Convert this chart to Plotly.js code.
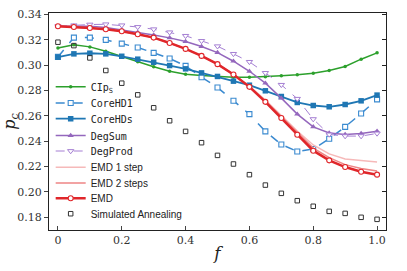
<!DOCTYPE html>
<html>
<head>
<meta charset="utf-8">
<script src="https://cdn.plot.ly/plotly-3.0.1.min.js"></script>
<style>html,body{margin:0;padding:0;background:#fff;}#chart{width:407px;height:271px;}</style>
</head>
<body>
<div id="chart"></div>
<script>
const f = [0,0.05,0.1,0.15,0.2,0.25,0.3,0.35,0.4,0.45,0.5,0.55,0.6,0.65,0.7,0.75,0.8,0.85,0.9,0.95,1.0];
const ciPS = [0.3135,0.3160,0.3143,0.3109,0.3067,0.3025,0.2986,0.2951,0.2928,0.2917,0.2910,0.2904,0.2904,0.2907,0.2915,0.2923,0.2936,0.2957,0.2988,0.3046,0.3096];
const coreHD1 = [0.3064,0.3216,0.3216,0.3198,0.3169,0.3138,0.3096,0.3051,0.2993,0.2904,0.2823,0.2718,0.2613,0.2477,0.2374,0.2319,0.2338,0.2419,0.2513,0.2618,0.2729];
const coreHDs = [0.3062,0.3088,0.3093,0.3088,0.3069,0.3046,0.3022,0.2996,0.2970,0.2938,0.2910,0.2873,0.2841,0.2797,0.2752,0.2705,0.2681,0.2671,0.2689,0.2718,0.2763];
const degSum = [0.3306,0.3308,0.3306,0.3295,0.3277,0.3258,0.3237,0.3214,0.3185,0.3146,0.3098,0.3030,0.2951,0.2857,0.2739,0.2613,0.2513,0.2464,0.2453,0.2461,0.2479];
const degProd = [0.3306,0.3313,0.3319,0.3321,0.3313,0.3300,0.3282,0.3258,0.3230,0.3190,0.3148,0.3088,0.3025,0.2938,0.2844,0.2734,0.2574,0.2453,0.2440,0.2440,0.2461];
const emd1 = [0.3306,0.3300,0.3292,0.3282,0.3266,0.3243,0.3216,0.3174,0.3127,0.3072,0.3007,0.2927,0.2835,0.2725,0.2605,0.2480,0.2370,0.2300,0.2260,0.2245,0.2235];
const emd2 = [0.3306,0.3300,0.3292,0.3282,0.3266,0.3243,0.3216,0.3174,0.3127,0.3072,0.3007,0.2926,0.2831,0.2718,0.2595,0.2465,0.2345,0.2270,0.2215,0.2185,0.2165];
const emd = [0.3306,0.3300,0.3292,0.3282,0.3266,0.3243,0.3216,0.3174,0.3127,0.3072,0.3007,0.2925,0.2828,0.2710,0.2582,0.2451,0.2325,0.2249,0.2196,0.2159,0.2136];
const simAnn = [0.3180,0.3153,0.3056,0.2957,0.2857,0.2765,0.2663,0.2561,0.2477,0.2388,0.2288,0.2220,0.2136,0.2054,0.1989,0.1931,0.1887,0.1847,0.1831,0.1800,0.1784];
const xTickVals = [0,0.2,0.4,0.6,0.8,1.0];
const xTickText = ['0','0.2','0.4','0.6','0.8','1.0'];
const yTickVals = [0.18,0.20,0.22,0.24,0.26,0.28,0.30,0.32,0.34];

const mono = 'font-family:DejaVu Sans Mono';
const traces = [
  {x:f, y:ciPS, name:'<span style="'+mono+'">CIp<sub>S</sub></span>', mode:'lines+markers',
   line:{color:'#2ca02c', width:1.5}, marker:{symbol:'circle', size:3.5, color:'#2ca02c'}},
  {x:f, y:coreHD1, name:'<span style="'+mono+'">CoreHD1</span>', mode:'lines+markers',
   line:{color:'#3a8ad0', width:1.5, dash:'dash'}, marker:{symbol:'square', size:5, color:'#ffffff', line:{color:'#3a8ad0', width:1.1}}},
  {x:f, y:coreHDs, name:'<span style="'+mono+'">CoreHDs</span>', mode:'lines+markers',
   line:{color:'#1f77b4', width:1.8}, marker:{symbol:'square', size:5.5, color:'#1f77b4'}},
  {x:f, y:degSum, name:'<span style="'+mono+'">DegSum</span>', mode:'lines+markers',
   line:{color:'#9467bd', width:1.5}, marker:{symbol:'triangle-up', size:5.5, color:'#9467bd'}},
  {x:f, y:degProd, name:'<span style="'+mono+'">DegProd</span>', mode:'lines+markers',
   line:{color:'#a57fd3', width:1, dash:'dash'}, marker:{symbol:'triangle-down', size:5.5, color:'#ffffff', line:{color:'#a57fd3', width:1}}},
  {x:f, y:emd1, name:'EMD 1 step', mode:'lines',
   line:{color:'#f6b9b9', width:1.5}},
  {x:f, y:emd2, name:'EMD 2 steps', mode:'lines',
   line:{color:'#ee8585', width:1.5}},
  {x:f, y:emd, name:'EMD', mode:'lines+markers',
   line:{color:'#e0262a', width:2.5}, marker:{symbol:'circle', size:5, color:'#ffffff', line:{color:'#e0262a', width:1.1}}},
  {x:f, y:simAnn, name:'Simulated Annealing', mode:'markers',
   marker:{symbol:'square-open', size:4.5, color:'#333333', line:{width:1}}}
];

// one legend per entry so the rows can sit closer than Plotly's 19px minimum
const legendY = [0.660,0.585,0.513,0.435,0.364,0.289,0.217,0.146,0.075];
const layout = {
  width:407, height:271,
  margin:{l:49, r:21, t:13, b:41},
  paper_bgcolor:'#ffffff', plot_bgcolor:'#ffffff',
  showlegend:true,
  xaxis:{range:[-0.028,1.028], tickvals:xTickVals, ticktext:xTickText, ticks:'inside', ticklen:4,
         showline:true, mirror:true, linecolor:'#222', linewidth:1, showgrid:false, zeroline:false,
         tickfont:{family:'DejaVu Serif', size:11, color:'#333'},
         title:{text:'<i>f</i>', font:{family:'DejaVu Serif', size:17, color:'#222'}, standoff:0}},
  yaxis:{range:[0.170,0.341], tickvals:yTickVals, tickformat:'.2f', ticks:'outside', ticklen:4,
         showline:true, mirror:true, linecolor:'#222', linewidth:1, showgrid:false, zeroline:false,
         tickfont:{family:'DejaVu Serif', size:11, color:'#333'},
         title:{text:'<i>p</i><sub><i>c</i></sub>', font:{family:'DejaVu Serif', size:16, color:'#222'}, standoff:2}},
  yaxis2:{overlaying:'y', side:'right', matches:'y', range:[0.170,0.341], tickvals:yTickVals, ticks:'inside', ticklen:4,
          showticklabels:false, showgrid:false, zeroline:false, showline:false, tickcolor:'#222'}
};
traces.forEach((t, i) => {
  const key = i === 0 ? 'legend' : 'legend' + (i + 1);
  t.legend = key;
  layout[key] = {x:0.005, y:legendY[i], xanchor:'left', yanchor:'middle', bgcolor:'rgba(0,0,0,0)',
                 font:{family:'Liberation Sans', size:10, color:'#222'}};
});
traces.push({x:[0.5], y:[0.25], yaxis:'y2', mode:'markers', marker:{opacity:0}, showlegend:false, hoverinfo:'skip'});
Plotly.newPlot('chart', traces, layout, {staticPlot:true, displayModeBar:false});
</script>
</body>
</html>
